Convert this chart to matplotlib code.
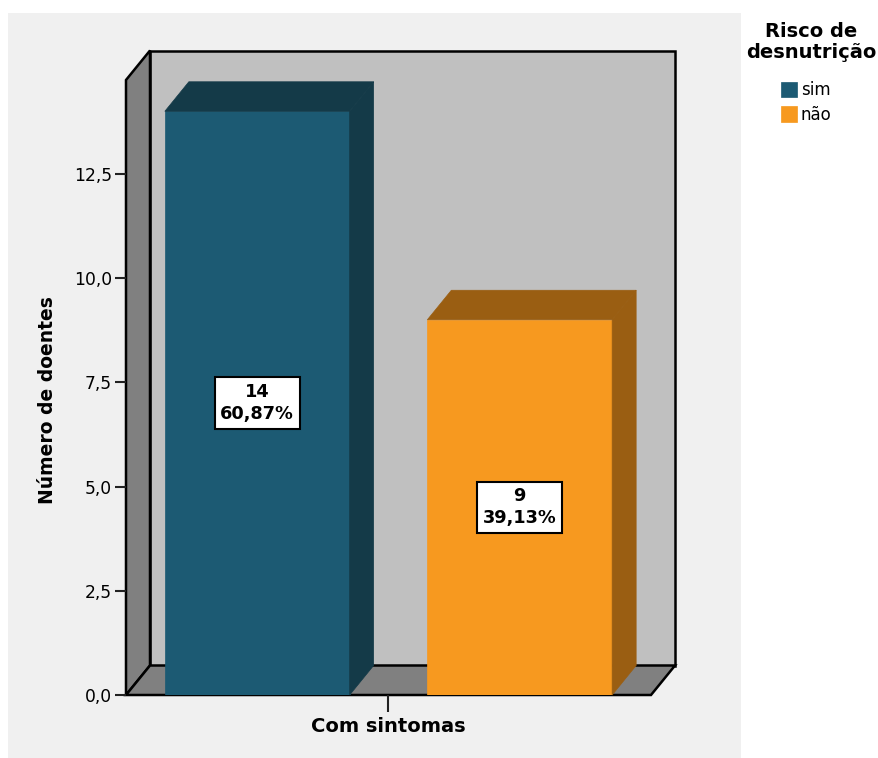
#!/usr/bin/env python3
"""
Número de doentes com sintomas, por risco de desnutrição (barras 3D estilo SPSS).
"""
import numpy as np
import matplotlib as mpl
import matplotlib.pyplot as plt
from matplotlib.patches import Polygon, Rectangle

mpl.rcParams.update({"font.family": "DejaVu Sans"})

# ---------------------------------------------------------------
# Data
# ---------------------------------------------------------------
categories = ["Com sintomas"]
groups = ["sim", "não"]
counts = [14, 9]
percents = [60.87, 39.13]
yticks = [0, 2.5, 5, 7.5, 10, 12.5]

face = {"sim": "#1C5A73", "não": "#F7991F"}
shade = {"sim": "#143A48", "não": "#9A5E12"}

# ---------------------------------------------------------------
# Figure / axes (axes = front plane of the 3D box)
# ---------------------------------------------------------------
W, H = 879, 758
fig = plt.figure(figsize=(W / 100, H / 100), dpi=100)
fig.patch.set_facecolor("white")
fig.patches.append(Rectangle((8 / W, 0), (741 - 8) / W, (H - 13) / H,
                             transform=fig.transFigure, facecolor="#F0F0F0",
                             edgecolor="none", zorder=-5))

left, right, top, base = 126, 651, 80, 695
ax = fig.add_axes([left / W, (H - base) / H, (right - left) / W, (base - top) / H])
ymax = 14.75
ax.set_xlim(-0.5, 0.5)
ax.set_ylim(0, ymax)
ax.patch.set_visible(False)
for s in ax.spines.values():
    s.set_visible(False)

# depth offset of the 3D effect, pixels -> data units
x0, x1 = ax.get_xlim()
dx = 24 / (right - left) * (x1 - x0)
dy = 29.5 / (base - top) * ymax

# walls
wall_kw = dict(edgecolor="black", linewidth=1.8, clip_on=False, joinstyle="miter")
ax.add_patch(Rectangle((x0 + dx, dy), x1 - x0, ymax, facecolor="#C0C0C0",
                       zorder=1, **wall_kw))
ax.add_patch(Polygon([(x0, 0), (x0 + dx, dy), (x0 + dx, ymax + dy), (x0, ymax)],
                     facecolor="#808080", zorder=1.5, **wall_kw))
ax.add_patch(Polygon([(x0, 0), (x1, 0), (x1 + dx, dy), (x0 + dx, dy)],
                     facecolor="#808080", zorder=1.5, **wall_kw))

# bars
width = 0.352
xpos = [-0.25, 0.25]
for x, g, v, p in zip(xpos, groups, counts, percents):
    ax.bar(x, v, width, color=face[g], label=g, zorder=3,
           edgecolor=face[g], linewidth=0.5)
    xl, xr = x - width / 2, x + width / 2
    ax.add_patch(Polygon([(xl, v), (xr, v), (xr + dx, v + dy), (xl + dx, v + dy)],
                         facecolor=shade[g], edgecolor=shade[g], lw=0.5,
                         zorder=3, clip_on=False))
    ax.add_patch(Polygon([(xr, 0), (xr + dx, dy), (xr + dx, v + dy), (xr, v)],
                         facecolor=shade[g], edgecolor=shade[g], lw=0.5,
                         zorder=3, clip_on=False))
    label = f"{v}\n{p:.2f}%".replace(".", ",")
    ax.text(x, v / 2, label, ha="center", va="center", fontsize=12.8,
            fontweight="bold", linespacing=1.3, zorder=5,
            bbox=dict(boxstyle="square,pad=0.32", fc="white", ec="black", lw=1.5))

# axes ticks and labels
ax.set_yticks(yticks)
ax.set_yticklabels([f"{t:.1f}".replace(".", ",") for t in yticks])
ax.tick_params(axis="y", length=8, width=1.5, pad=2, labelsize=12.3,
               direction="out", color="#222222")
ax.set_xticks([0])
ax.set_xticklabels(categories, fontweight="bold", fontsize=14)
ax.tick_params(axis="x", length=12.2, width=1.5, pad=4, color="#222222")

ax.set_ylabel("Número de doentes", fontsize=13.5, fontweight="bold")
ax.yaxis.set_label_coords(-0.131, 0.48)

# legend: title as separate text, entries below
fig.text(811 / W, 1 - 42 / H, "Risco de\ndesnutrição", ha="center", va="center",
         fontsize=14, fontweight="bold", linespacing=1.1, multialignment="center")
leg = fig.legend(loc="upper left", bbox_to_anchor=(781 / W, 1 - 81 / H),
                 frameon=False, fontsize=12, handlelength=0.95, handleheight=1.05,
                 handletextpad=0.25, labelspacing=0.4, borderpad=0,
                 borderaxespad=0)

fig.savefig("out.png", dpi=100)
